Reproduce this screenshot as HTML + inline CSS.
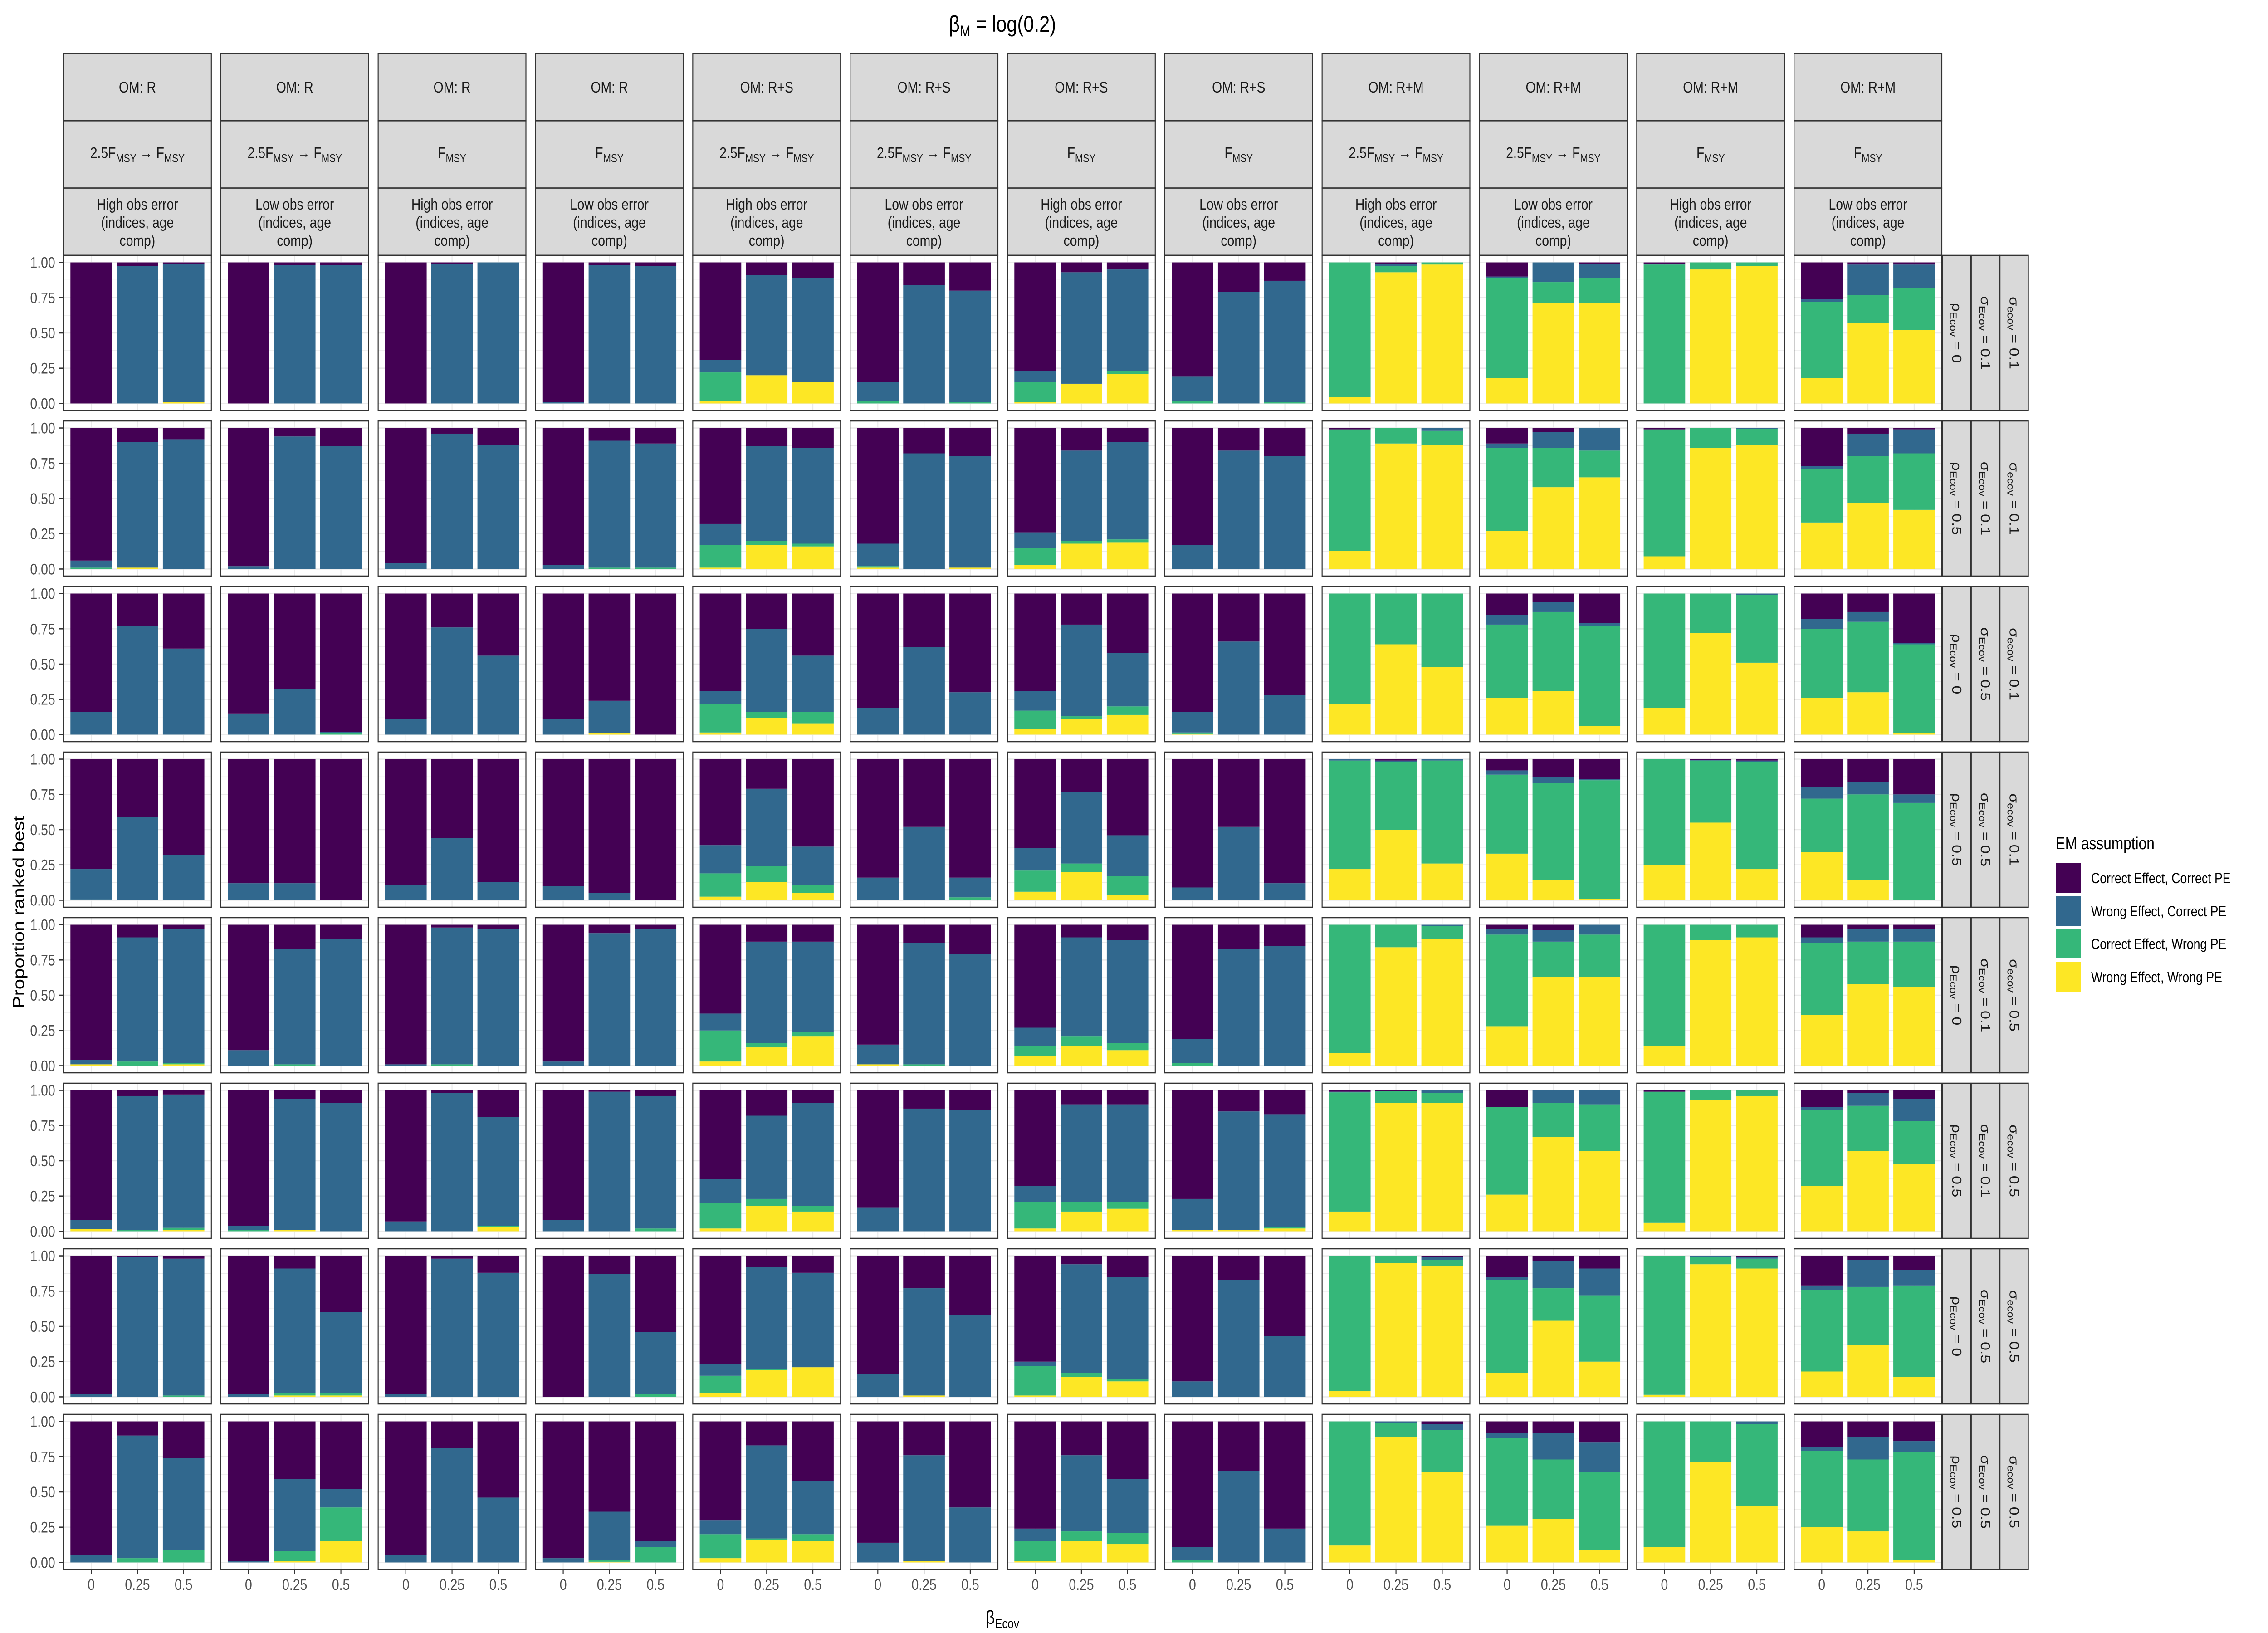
<!DOCTYPE html>
<html>
<head>
<meta charset="utf-8">
<style>
html,body{margin:0;padding:0;background:#fff;width:100%;height:100%;overflow:hidden;}
svg{display:block;width:100vw;height:100vh;font-family:"Liberation Sans",Arial,sans-serif;}
</style>
</head>
<body>
<svg id="chart" xmlns="http://www.w3.org/2000/svg" viewBox="0 0 6000 3600" preserveAspectRatio="none">
  <rect x="0" y="0" width="6000" height="3600" fill="#ffffff"/>
  <text x="2652" y="70" font-size="50" text-anchor="middle" fill="#000">β<tspan font-size="34" dy="10">M</tspan><tspan dy="-10"> = log(0.2)</tspan></text>
  <text x="2652" y="3580" font-size="42" text-anchor="middle" fill="#000">β<tspan font-size="29" dy="9">Ecov</tspan></text>
  <text transform="rotate(-90 50 2011)" x="50" y="2011" font-size="42" text-anchor="middle" dominant-baseline="central" fill="#000">Proportion ranked best</text>
  <g id="panels"></g>
  <g id="legend">
    <text x="5438" y="1872" font-size="38" fill="#000">EM assumption</text>
    <rect x="5439" y="1902" width="66" height="66" fill="#440154"/>
    <text x="5532" y="1947" font-size="32" fill="#000">Correct Effect, Correct PE</text>
    <rect x="5439" y="1975" width="66" height="66" fill="#31688E"/>
    <text x="5532" y="2020" font-size="32" fill="#000">Wrong Effect, Correct PE</text>
    <rect x="5439" y="2047" width="66" height="66" fill="#35B779"/>
    <text x="5532" y="2092" font-size="32" fill="#000">Correct Effect, Wrong PE</text>
    <rect x="5439" y="2120" width="66" height="66" fill="#FDE725"/>
    <text x="5532" y="2165" font-size="32" fill="#000">Wrong Effect, Wrong PE</text>
  </g>
</svg>
<script>
// ---- data ----
const xCategories = ["0", "0.25", "0.5"];
const yTickValues = [0, 0.25, 0.5, 0.75, 1];
const yTickLabels = ["0.00", "0.25", "0.50", "0.75", "1.00"];
const omLabels = ["R","R","R","R","R+S","R+S","R+S","R+S","R+M","R+M","R+M","R+M"];
const fLabels = ["ramp","ramp","fmsy","fmsy","ramp","ramp","fmsy","fmsy","ramp","ramp","fmsy","fmsy"];
const obsLabels = ["High","Low","High","Low","High","Low","High","Low","High","Low","High","Low"];
const rhoLabels = ["0","0.5","0","0.5","0","0.5","0","0.5"];
const sigEcovLabels = ["0.1","0.1","0.5","0.5","0.1","0.1","0.5","0.5"];
const sigecovLabels = ["0.1","0.1","0.1","0.1","0.5","0.5","0.5","0.5"];

// Wrong Effect, Wrong PE (yellow) — [row][col*3+bar]
const wrongEffWrongPE = [
 [0,0,.01, 0,0,0, 0,0,0, 0,0,0, .015,.20,.15, 0,0,0, .01,.14,.21, 0,0,0, .045,.93,.985, .18,.71,.71, 0,.95,.975, .18,.57,.52],
 [0,.01,0, 0,0,0, 0,0,0, 0,0,0, .01,.17,.16, .01,0,.01, .03,.18,.19, 0,0,0, .13,.89,.88, .27,.58,.65, .09,.86,.88, .33,.47,.42],
 [0,0,0, 0,0,0, 0,0,0, 0,.01,0, .015,.12,.08, 0,0,0, .04,.11,.14, .005,0,0, .22,.64,.48, .26,.31,.06, .19,.72,.51, .26,.30,.01],
 [0,0,0, 0,0,0, 0,0,0, 0,0,0, .025,.13,.05, 0,0,0, .06,.20,.04, 0,0,0, .22,.50,.26, .33,.14,.01, .25,.55,.22, .34,.14,0],
 [.01,0,.01, 0,0,0, 0,0,0, 0,0,0, .03,.13,.21, .01,0,0, .07,.14,.11, 0,0,0, .09,.84,.90, .28,.63,.63, .14,.89,.91, .36,.58,.56],
 [.015,0,.01, 0,.01,0, 0,0,.03, 0,0,0, .02,.18,.14, 0,0,0, .02,.14,.16, .01,.01,.02, .14,.91,.91, .26,.67,.57, .06,.93,.96, .32,.57,.48],
 [0,0,0, 0,.01,.01, 0,0,0, 0,0,0, .03,.19,.21, 0,.01,0, .01,.14,.11, 0,0,0, .04,.95,.93, .17,.54,.25, .015,.94,.91, .18,.37,.14],
 [0,0,0, 0,.01,.15, 0,0,0, 0,.005,0, .03,.16,.15, 0,.01,0, .01,.15,.13, 0,0,0, .12,.89,.64, .26,.31,.09, .11,.71,.40, .25,.22,.02]
];
// Correct Effect, Wrong PE (green)
const correctEffWrongPE = [
 [0,0,0, 0,0,0, 0,0,0, 0,0,0, .205,0,0, .015,0,.01, .14,0,.02, .015,0,.01, .955,.045,.015, .71,.15,.18, .985,.05,.025, .54,.20,.30],
 [.01,0,0, 0,0,0, 0,0,0, 0,.01,.01, .16,.03,.02, .01,0,0, .12,.02,.02, 0,0,0, .86,.11,.10, .59,.28,.19, .90,.14,.115, .38,.33,.40],
 [0,0,0, 0,0,.01, 0,0,0, 0,0,0, .205,.04,.08, 0,0,0, .13,.02,.06, .01,0,0, .78,.36,.52, .52,.56,.71, .81,.28,.48, .49,.50,.63],
 [.005,0,0, 0,0,0, 0,0,0, 0,0,0, .165,.11,.06, 0,0,.02, .15,.06,.13, 0,0,0, .77,.48,.73, .56,.69,.84, .75,.44,.76, .38,.61,.69],
 [0,.03,.01, 0,.01,0, 0,.01,0, 0,0,0, .22,.03,.03, 0,.01,0, .07,.07,.05, .02,0,0, .91,.16,.09, .65,.25,.30, .86,.11,.09, .51,.30,.32],
 [0,.01,.015, .01,0,0, 0,0,.01, 0,0,.02, .18,.05,.04, 0,0,0, .19,.07,.05, 0,0,.01, .845,.085,.07, .62,.24,.33, .93,.07,.04, .54,.32,.30],
 [0,0,.01, 0,.015,.015, 0,0,0, 0,0,.02, .12,.01,0, 0,0,0, .21,.03,.02, 0,0,0, .96,.05,.04, .66,.23,.47, .985,.05,.07, .58,.41,.65],
 [0,.03,.09, 0,.07,.24, 0,0,0, 0,.015,.11, .17,.01,.05, 0,0,0, .14,.07,.08, .02,0,0, .88,.10,.30, .62,.42,.55, .89,.29,.58, .54,.51,.76]
];
// Wrong Effect, Correct PE (blue)
const wrongEffCorrectPE = [
 [0,.975,.98, 0,.98,.98, 0,.99,1, .01,.98,.975, .09,.71,.74, .135,.84,.79, .08,.79,.72, .175,.79,.86, 0,.015,0, .01,.14,.10, .005,0,0, .02,.215,.165],
 [.05,.89,.92, .02,.94,.87, .04,.96,.88, .03,.90,.88, .15,.67,.68, .16,.82,.79, .11,.64,.69, .17,.84,.80, 0,0,.02, .03,.11,.16, 0,0,.005, .02,.16,.17],
 [.16,.77,.61, .15,.32,.01, .11,.76,.56, .11,.23,0, .09,.59,.40, .19,.62,.30, .14,.65,.38, .145,.66,.28, 0,0,0, .07,.07,.02, 0,0,.01, .07,.07,.01],
 [.215,.59,.32, .12,.12,0, .11,.44,.13, .10,.05,0, .20,.55,.27, .16,.52,.14, .16,.51,.29, .09,.52,.12, .01,.01,.01, .03,.04,.01, 0,.005,.01, .08,.09,.06],
 [.03,.88,.95, .11,.82,.90, .01,.97,.97, .03,.94,.97, .12,.72,.64, .14,.86,.79, .13,.70,.73, .17,.83,.85, 0,0,.01, .04,.08,.07, 0,0,0, .04,.09,.09],
 [.065,.95,.945, .03,.93,.91, .07,.98,.77, .08,.99,.94, .17,.59,.73, .17,.87,.86, .11,.69,.69, .22,.84,.80, .005,0,.02, 0,.09,.10, 0,0,0, .02,.09,.16],
 [.02,.99,.97, .02,.885,.575, .02,.98,.88, 0,.87,.44, .08,.72,.67, .16,.76,.58, .03,.77,.72, .11,.83,.43, 0,0,.02, .02,.19,.19, 0,.01,.01, .03,.19,.11],
 [.05,.87,.65, .01,.51,.13, .05,.81,.46, .03,.34,.04, .10,.66,.38, .14,.75,.39, .09,.54,.38, .09,.65,.24, 0,.01,.04, .04,.19,.21, 0,0,.02, .03,.16,.08]
];
// Correct Effect, Correct PE (purple)
const correctEffCorrectPE = [
 [1,.025,.01, 1,.02,.02, 1,.01,0, .99,.02,.025, .69,.09,.11, .85,.16,.20, .77,.07,.05, .81,.21,.13, 0,.01,0, .10,0,.01, .01,0,0, .26,.015,.015],
 [.94,.10,.08, .98,.06,.13, .96,.04,.12, .97,.09,.11, .68,.13,.14, .82,.18,.20, .74,.16,.10, .83,.16,.20, .01,0,0, .11,.03,0, .01,0,0, .27,.04,.01],
 [.84,.23,.39, .85,.68,.98, .89,.24,.44, .89,.76,1, .69,.25,.44, .81,.38,.70, .69,.22,.42, .84,.34,.72, 0,0,0, .15,.06,.21, 0,0,0, .18,.13,.35],
 [.78,.41,.68, .88,.88,1, .89,.56,.87, .90,.95,1, .61,.21,.62, .84,.48,.84, .63,.23,.54, .91,.48,.88, 0,.01,0, .08,.13,.14, 0,.005,.01, .20,.16,.25],
 [.96,.09,.03, .89,.17,.10, .99,.02,.03, .97,.06,.03, .63,.12,.12, .85,.13,.21, .73,.09,.11, .81,.17,.15, 0,0,0, .03,.04,0, 0,0,0, .09,.03,.03],
 [.92,.04,.03, .96,.06,.09, .93,.02,.19, .92,.01,.04, .63,.18,.09, .83,.13,.14, .68,.10,.10, .77,.15,.17, .01,.005,0, .12,0,0, .01,0,0, .12,.02,.06],
 [.98,.01,.02, .98,.09,.40, .98,.02,.12, 1,.13,.54, .77,.08,.12, .84,.23,.42, .75,.06,.15, .89,.17,.57, 0,0,.01, .15,.04,.09, 0,0,.01, .21,.03,.10],
 [.95,.10,.26, .99,.41,.48, .95,.19,.54, .97,.64,.85, .70,.17,.42, .86,.24,.61, .76,.24,.41, .89,.35,.76, 0,0,.02, .08,.08,.15, 0,0,0, .18,.11,.14]
];

// ---- layout ----
const NS = "http://www.w3.org/2000/svg";
const COL_X0 = 168, COL_PITCH = 416.2, PANEL_W = 391;
const ROW_Y0 = 563, ROW_PITCH = 365, PANEL_H = 342;
const STRIP_TOP = 118, STRIP_H = 148.3;
const RSTRIP_X = [5139, 5215, 5291], RSTRIP_W = 75;
const seriesList = [
  {vals: wrongEffWrongPE, color: "#FDE725", name: "wrong-effect-wrong-pe"},
  {vals: correctEffWrongPE, color: "#35B779", name: "correct-effect-wrong-pe"},
  {vals: wrongEffCorrectPE, color: "#31688E", name: "wrong-effect-correct-pe"},
  {vals: correctEffCorrectPE, color: "#440154", name: "correct-effect-correct-pe"}
];

function panelX(c){ return COL_X0 + c * COL_PITCH; }
function panelY(r){ return ROW_Y0 + r * ROW_PITCH; }
function xScale(c, i){ return panelX(c) + (0.6 + i) * PANEL_W / 3.2; }
function yScale(r, v){ return panelY(r) + (1.05 - v) * PANEL_H / 1.1; }
const BAR_W = 0.9 * PANEL_W / 3.2;

function mk(tag, attrs, parent){
  const e = document.createElementNS(NS, tag);
  for (const k in attrs) e.setAttribute(k, attrs[k]);
  if (parent) parent.appendChild(e);
  return e;
}

const root = document.getElementById('panels');
const TXT = "#1a1a1a";

// column strips
for (let c = 0; c < 12; c++){
  const x = panelX(c);
  for (let s = 0; s < 3; s++){
    const sr = mk('rect', {x: x, y: STRIP_TOP + s*STRIP_H, width: PANEL_W, height: STRIP_H, fill: "#d9d9d9", stroke: "#333333", 'stroke-width': 2.6}, root);
    
    
  }
  const cx = x + PANEL_W/2;
  const t1 = mk('text', {x: cx, y: STRIP_TOP + STRIP_H*0.5 + 12, 'font-size': 34, 'text-anchor': 'middle', fill: TXT}, root);
  
  
  t1.textContent = "OM: " + omLabels[c];
  const t2 = mk('text', {x: cx, y: STRIP_TOP + STRIP_H*1.5 + 8, 'font-size': 34, 'text-anchor': 'middle', fill: TXT}, root);
  
  
  if (fLabels[c] === "ramp"){
    const a = mk('tspan', {}, t2); a.textContent = "2.5F";
    const b = mk('tspan', {'font-size': 25, dy: 9}, t2); b.textContent = "MSY";
    const d = mk('tspan', {dy: -9}, t2); d.textContent = " \u2192 F";
    const e = mk('tspan', {'font-size': 25, dy: 9}, t2); e.textContent = "MSY";
  } else {
    const a = mk('tspan', {}, t2); a.textContent = "F";
    const b = mk('tspan', {'font-size': 25, dy: 9}, t2); b.textContent = "MSY";
  }
  const lines = [obsLabels[c] + " obs error", "(indices, age", "comp)"];
  for (let l = 0; l < 3; l++){
    const t3 = mk('text', {x: cx, y: 462 + l*40, 'font-size': 34, 'text-anchor': 'middle', fill: TXT}, root);
    
    
    t3.textContent = lines[l];
  }
}

// panels
for (let r = 0; r < 8; r++){
  const py = panelY(r);
  const rLab = [["\u03C1", "Ecov", rhoLabels[r]], ["\u03C3", "Ecov", sigEcovLabels[r]], ["\u03C3", "ecov", sigecovLabels[r]]];
  for (let s = 0; s < 3; s++){
    const rr = mk('rect', {x: RSTRIP_X[s], y: py, width: RSTRIP_W, height: PANEL_H, fill: "#d9d9d9", stroke: "#333333", 'stroke-width': 2.6}, root);
    
    
    const cx = RSTRIP_X[s] + RSTRIP_W/2, cy = py + PANEL_H/2;
    const rt = mk('text', {x: cx, y: cy, 'font-size': 34, 'text-anchor': 'middle', 'dominant-baseline': 'central', fill: TXT, transform: 'rotate(90 ' + cx + ' ' + cy + ')'}, root);
    
    
    const a = mk('tspan', {}, rt); a.textContent = rLab[s][0];
    const b = mk('tspan', {'font-size': 25, dy: 9}, rt); b.textContent = rLab[s][1];
    const d = mk('tspan', {dy: -9}, rt); d.textContent = " = " + rLab[s][2];
  }
  for (let c = 0; c < 12; c++){
    const px = panelX(c);
    const g = mk('g', {}, root);
    
    
    const bg = mk('rect', {x: px, y: py, width: PANEL_W, height: PANEL_H, fill: "#ffffff"}, g);
    
    
    for (let k = 0; k < 4; k++){
      const v = 0.125 + k*0.25;
      const ml = mk('line', {x1: px, x2: px+PANEL_W, y1: yScale(r, v), y2: yScale(r, v), stroke: "#ebebeb", 'stroke-width': 1.3}, g);
      
      
    }
    for (let k = 0; k < yTickValues.length; k++){
      const yy = yScale(r, yTickValues[k]);
      const gl = mk('line', {x1: px, x2: px+PANEL_W, y1: yy, y2: yy, stroke: "#ebebeb", 'stroke-width': 2.6}, g);
      
      
    }
    for (let i = 0; i < 3; i++){
      const xx = xScale(c, i);
      const vl = mk('line', {x1: xx, x2: xx, y1: py, y2: py+PANEL_H, stroke: "#ebebeb", 'stroke-width': 2.6}, g);
      
      
    }
    for (let i = 0; i < 3; i++){
      let cum = 0;
      const xx = xScale(c, i) - BAR_W/2;
      for (const s of seriesList){
        const v = s.vals[r][c*3 + i];
        if (v > 0){
          const y1 = yScale(r, cum + v), y0 = yScale(r, cum);
          const bar = mk('rect', {x: xx, y: y1, width: BAR_W, height: Math.max(0, y0 - y1), fill: s.color}, g);
          
          
        }
        cum += v;
      }
    }
    const border = mk('rect', {x: px, y: py, width: PANEL_W, height: PANEL_H, fill: "none", stroke: "#333333", 'stroke-width': 2.6}, g);
    
    

    if (c === 0){
      for (let k = 0; k < yTickValues.length; k++){
        const yy = yScale(r, yTickValues[k]);
        const tk = mk('line', {x1: 156, x2: px, y1: yy, y2: yy, stroke: "#333333", 'stroke-width': 2.6}, root);
        
        
        const tl = mk('text', {x: 146, y: yy + 12, 'font-size': 34, 'text-anchor': 'end', fill: "#4d4d4d"}, root);
        
        
        tl.textContent = yTickLabels[k];
      }
    }
    if (r === 7){
      for (let i = 0; i < 3; i++){
        const xx = xScale(c, i);
        const tk = mk('line', {x1: xx, x2: xx, y1: py+PANEL_H, y2: py+PANEL_H+11, stroke: "#333333", 'stroke-width': 2.6}, root);
        
        
        const tl = mk('text', {x: xx, y: 3505, 'font-size': 34, 'text-anchor': 'middle', fill: "#4d4d4d"}, root);
        
        
        tl.textContent = xCategories[i];
      }
    }
  }
}
</script>
</body>
</html>
